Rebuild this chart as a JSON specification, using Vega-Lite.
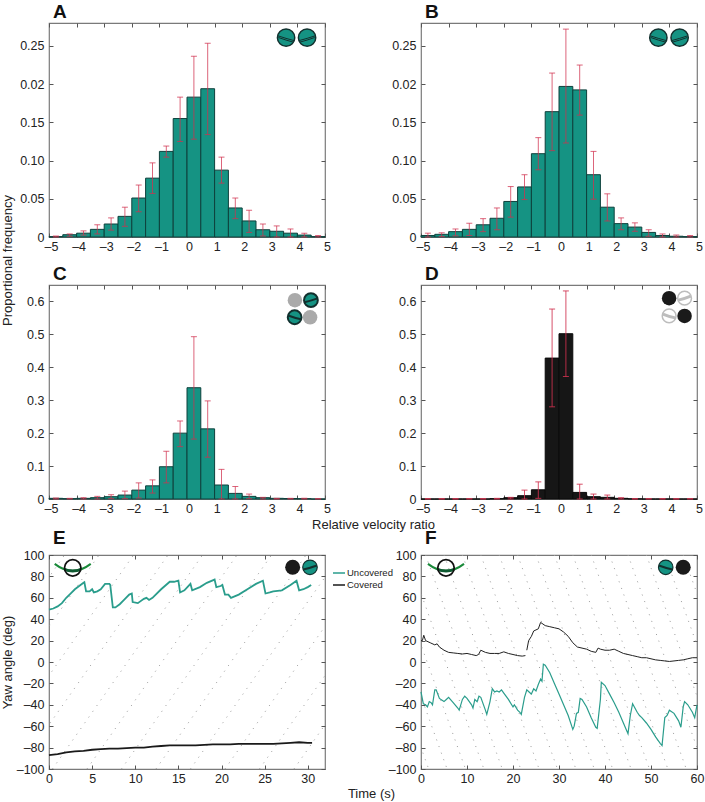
{"$schema":"https://vega.github.io/schema/vega-lite/v6.json","background":"white","padding":{"left":0,"top":1,"right":0,"bottom":0},
"config":{"font":"Liberation Sans","view":{"stroke":"#7a7a7a","strokeWidth":1.2},"axis":{"grid":false,"domain":false,"tickSize":-4,"tickColor":"#555","tickWidth":1,"labelFont":"Liberation Sans","labelFontSize":12.5,"labelColor":"#222","labelBound":false,"labelFlush":false,"labelOverlap":false,"titleFont":"Liberation Sans","titleFontWeight":"normal","titleFontSize":13,"titleColor":"#222"},"axisX":{"labelPadding":7},"axisY":{"labelPadding":9},"title":{"font":"Liberation Sans","fontWeight":"bold","fontSize":19,"color":"#111","anchor":"start","frame":"group","offset":1,"dx":4}},
"datasets":{
"A":[{"b":-5,"e":-4.5,"c":-4.75,"f":0.0005,"hi":0.0013,"lo":0},{"b":-4.5,"e":-4,"c":-4.25,"f":0.003,"hi":0.004,"lo":0.001},{"b":-4,"e":-3.5,"c":-3.75,"f":0.005,"hi":0.008,"lo":0.0025},{"b":-3.5,"e":-3,"c":-3.25,"f":0.01,"hi":0.016,"lo":0.004},{"b":-3,"e":-2.5,"c":-2.75,"f":0.017,"hi":0.025,"lo":0.009},{"b":-2.5,"e":-2,"c":-2.25,"f":0.027,"hi":0.039,"lo":0.014},{"b":-2,"e":-1.5,"c":-1.75,"f":0.051,"hi":0.068,"lo":0.033},{"b":-1.5,"e":-1,"c":-1.25,"f":0.077,"hi":0.097,"lo":0.057},{"b":-1,"e":-0.5,"c":-0.75,"f":0.112,"hi":0.119,"lo":0.1045},{"b":-0.5,"e":0,"c":-0.25,"f":0.155,"hi":0.183,"lo":0.125},{"b":0,"e":0.5,"c":0.25,"f":0.183,"hi":0.2365,"lo":0.128},{"b":0.5,"e":1,"c":0.75,"f":0.194,"hi":0.2535,"lo":0.134},{"b":1,"e":1.5,"c":1.25,"f":0.0875,"hi":0.1045,"lo":0.0705},{"b":1.5,"e":2,"c":1.75,"f":0.038,"hi":0.051,"lo":0.024},{"b":2,"e":2.5,"c":2.25,"f":0.021,"hi":0.035,"lo":0.006},{"b":2.5,"e":3,"c":2.75,"f":0.0095,"hi":0.017,"lo":0.0013},{"b":3,"e":3.5,"c":3.25,"f":0.0075,"hi":0.0145,"lo":0},{"b":3.5,"e":4,"c":3.75,"f":0.005,"hi":0.0105,"lo":0},{"b":4,"e":4.5,"c":4.25,"f":0.0025,"hi":0.005,"lo":0},{"b":4.5,"e":5,"c":4.75,"f":0.0005,"hi":0.002,"lo":0}],
"B":[{"b":-5,"e":-4.5,"c":-4.75,"f":0.002,"hi":0.005,"lo":0},{"b":-4.5,"e":-4,"c":-4.25,"f":0.0035,"hi":0.0055,"lo":0.0005},{"b":-4,"e":-3.5,"c":-3.75,"f":0.007,"hi":0.0105,"lo":0.0015},{"b":-3.5,"e":-3,"c":-3.25,"f":0.01,"hi":0.018,"lo":0.002},{"b":-3,"e":-2.5,"c":-2.75,"f":0.016,"hi":0.024,"lo":0.007},{"b":-2.5,"e":-2,"c":-2.25,"f":0.0245,"hi":0.038,"lo":0.0095},{"b":-2,"e":-1.5,"c":-1.75,"f":0.0465,"hi":0.066,"lo":0.026},{"b":-1.5,"e":-1,"c":-1.25,"f":0.0655,"hi":0.0815,"lo":0.049},{"b":-1,"e":-0.5,"c":-0.75,"f":0.109,"hi":0.13,"lo":0.088},{"b":-0.5,"e":0,"c":-0.25,"f":0.164,"hi":0.2145,"lo":0.113},{"b":0,"e":0.5,"c":0.25,"f":0.197,"hi":0.272,"lo":0.123},{"b":0.5,"e":1,"c":0.75,"f":0.1925,"hi":0.225,"lo":0.1595},{"b":1,"e":1.5,"c":1.25,"f":0.0815,"hi":0.112,"lo":0.0495},{"b":1.5,"e":2,"c":1.75,"f":0.039,"hi":0.0565,"lo":0.021},{"b":2,"e":2.5,"c":2.25,"f":0.0175,"hi":0.025,"lo":0.0095},{"b":2.5,"e":3,"c":2.75,"f":0.013,"hi":0.0185,"lo":0.0075},{"b":3,"e":3.5,"c":3.25,"f":0.006,"hi":0.0095,"lo":0.001},{"b":3.5,"e":4,"c":3.75,"f":0.002,"hi":0.004,"lo":0},{"b":4,"e":4.5,"c":4.25,"f":0.001,"hi":0.0025,"lo":0},{"b":4.5,"e":5,"c":4.75,"f":0.0005,"hi":0.002,"lo":0}],
"C":[{"b":-5,"e":-4.5,"c":-4.75,"f":0.002,"hi":0.003,"lo":0},{"b":-4.5,"e":-4,"c":-4.25,"f":0.001,"hi":0.002,"lo":0},{"b":-4,"e":-3.5,"c":-3.75,"f":0.002,"hi":0.004,"lo":0},{"b":-3.5,"e":-3,"c":-3.25,"f":0.004,"hi":0.008,"lo":0},{"b":-3,"e":-2.5,"c":-2.75,"f":0.007,"hi":0.013,"lo":0.001},{"b":-2.5,"e":-2,"c":-2.25,"f":0.012,"hi":0.024,"lo":0.001},{"b":-2,"e":-1.5,"c":-1.75,"f":0.027,"hi":0.049,"lo":0.003},{"b":-1.5,"e":-1,"c":-1.25,"f":0.04,"hi":0.058,"lo":0.018},{"b":-1,"e":-0.5,"c":-0.75,"f":0.098,"hi":0.145,"lo":0.049},{"b":-0.5,"e":0,"c":-0.25,"f":0.2,"hi":0.237,"lo":0.159},{"b":0,"e":0.5,"c":0.25,"f":0.338,"hi":0.493,"lo":0.182},{"b":0.5,"e":1,"c":0.75,"f":0.213,"hi":0.298,"lo":0.127},{"b":1,"e":1.5,"c":1.25,"f":0.0425,"hi":0.09,"lo":0},{"b":1.5,"e":2,"c":1.75,"f":0.017,"hi":0.038,"lo":0},{"b":2,"e":2.5,"c":2.25,"f":0.008,"hi":0.015,"lo":0.001},{"b":2.5,"e":3,"c":2.75,"f":0.004,"hi":0.005,"lo":0},{"b":3,"e":3.5,"c":3.25,"f":0.002,"hi":0.002,"lo":0},{"b":3.5,"e":4,"c":3.75,"f":0.0015,"hi":0.002,"lo":0},{"b":4,"e":4.5,"c":4.25,"f":0.001,"hi":0.002,"lo":0},{"b":4.5,"e":5,"c":4.75,"f":0,"hi":0.001,"lo":0}],
"D":[{"b":-5,"e":-4.5,"c":-4.75,"f":0,"hi":0.001,"lo":0},{"b":-4.5,"e":-4,"c":-4.25,"f":0,"hi":0.001,"lo":0},{"b":-4,"e":-3.5,"c":-3.75,"f":0,"hi":0.001,"lo":0},{"b":-3.5,"e":-3,"c":-3.25,"f":0,"hi":0.001,"lo":0},{"b":-3,"e":-2.5,"c":-2.75,"f":0,"hi":0.001,"lo":0},{"b":-2.5,"e":-2,"c":-2.25,"f":0.001,"hi":0.002,"lo":0},{"b":-2,"e":-1.5,"c":-1.75,"f":0.004,"hi":0.005,"lo":0},{"b":-1.5,"e":-1,"c":-1.25,"f":0.01,"hi":0.027,"lo":0},{"b":-1,"e":-0.5,"c":-0.75,"f":0.028,"hi":0.052,"lo":0.002},{"b":-0.5,"e":0,"c":-0.25,"f":0.428,"hi":0.577,"lo":0.28},{"b":0,"e":0.5,"c":0.25,"f":0.502,"hi":0.632,"lo":0.372},{"b":0.5,"e":1,"c":0.75,"f":0.02,"hi":0.045,"lo":0},{"b":1,"e":1.5,"c":1.25,"f":0.007,"hi":0.015,"lo":0},{"b":1.5,"e":2,"c":1.75,"f":0.005,"hi":0.012,"lo":0},{"b":2,"e":2.5,"c":2.25,"f":0.002,"hi":0.004,"lo":0},{"b":2.5,"e":3,"c":2.75,"f":0.0005,"hi":0.001,"lo":0},{"b":3,"e":3.5,"c":3.25,"f":0,"hi":0.001,"lo":0},{"b":3.5,"e":4,"c":3.75,"f":0,"hi":0.001,"lo":0},{"b":4,"e":4.5,"c":4.25,"f":0,"hi":0.001,"lo":0},{"b":4.5,"e":5,"c":4.75,"f":0,"hi":0.001,"lo":0}],
"E":[{"s":"Uncovered","g":1,"t":0,"y":49},{"s":"Uncovered","g":1,"t":0.5,"y":50},{"s":"Uncovered","g":1,"t":1,"y":52},{"s":"Uncovered","g":1,"t":1.5,"y":55},{"s":"Uncovered","g":1,"t":2,"y":60},{"s":"Uncovered","g":1,"t":2.5,"y":64},{"s":"Uncovered","g":1,"t":3,"y":68},{"s":"Uncovered","g":1,"t":3.5,"y":71},{"s":"Uncovered","g":1,"t":4,"y":74},{"s":"Uncovered","g":1,"t":4.1,"y":74.5},{"s":"Uncovered","g":1,"t":4.3,"y":66},{"s":"Uncovered","g":1,"t":4.7,"y":66},{"s":"Uncovered","g":1,"t":5,"y":68},{"s":"Uncovered","g":1,"t":5.2,"y":65},{"s":"Uncovered","g":1,"t":5.6,"y":66},{"s":"Uncovered","g":1,"t":6,"y":68},{"s":"Uncovered","g":1,"t":6.5,"y":73},{"s":"Uncovered","g":1,"t":7,"y":73},{"s":"Uncovered","g":1,"t":7.1,"y":72},{"s":"Uncovered","g":1,"t":7.4,"y":51},{"s":"Uncovered","g":1,"t":7.7,"y":51},{"s":"Uncovered","g":1,"t":8.2,"y":54},{"s":"Uncovered","g":1,"t":8.7,"y":58},{"s":"Uncovered","g":1,"t":9.3,"y":63},{"s":"Uncovered","g":1,"t":9.6,"y":64},{"s":"Uncovered","g":1,"t":9.7,"y":56},{"s":"Uncovered","g":1,"t":10.3,"y":55},{"s":"Uncovered","g":1,"t":11,"y":59},{"s":"Uncovered","g":1,"t":11.3,"y":60},{"s":"Uncovered","g":1,"t":11.6,"y":58},{"s":"Uncovered","g":1,"t":12,"y":60},{"s":"Uncovered","g":1,"t":13,"y":68},{"s":"Uncovered","g":1,"t":14,"y":75},{"s":"Uncovered","g":1,"t":14.5,"y":75},{"s":"Uncovered","g":1,"t":15,"y":76},{"s":"Uncovered","g":1,"t":15.2,"y":65},{"s":"Uncovered","g":1,"t":15.7,"y":67},{"s":"Uncovered","g":1,"t":16.4,"y":73},{"s":"Uncovered","g":1,"t":16.6,"y":67},{"s":"Uncovered","g":1,"t":17.5,"y":70},{"s":"Uncovered","g":1,"t":18.3,"y":74},{"s":"Uncovered","g":1,"t":19.2,"y":77},{"s":"Uncovered","g":1,"t":19.4,"y":70},{"s":"Uncovered","g":1,"t":19.9,"y":71},{"s":"Uncovered","g":1,"t":20.1,"y":72},{"s":"Uncovered","g":1,"t":20.4,"y":63},{"s":"Uncovered","g":1,"t":20.8,"y":63},{"s":"Uncovered","g":1,"t":21.1,"y":60},{"s":"Uncovered","g":1,"t":22,"y":63},{"s":"Uncovered","g":1,"t":23,"y":68},{"s":"Uncovered","g":1,"t":24,"y":73},{"s":"Uncovered","g":1,"t":24.8,"y":76},{"s":"Uncovered","g":1,"t":25.1,"y":64},{"s":"Uncovered","g":1,"t":25.6,"y":65},{"s":"Uncovered","g":1,"t":26,"y":66},{"s":"Uncovered","g":1,"t":27,"y":67},{"s":"Uncovered","g":1,"t":28,"y":72},{"s":"Uncovered","g":1,"t":28.7,"y":76},{"s":"Uncovered","g":1,"t":29,"y":67},{"s":"Uncovered","g":1,"t":29.5,"y":68},{"s":"Uncovered","g":1,"t":30,"y":70},{"s":"Uncovered","g":1,"t":30.4,"y":72},
{"s":"Covered","g":2,"t":0,"y":-87},{"s":"Covered","g":2,"t":1,"y":-86},{"s":"Covered","g":2,"t":2,"y":-84.5},{"s":"Covered","g":2,"t":3,"y":-83.5},{"s":"Covered","g":2,"t":4,"y":-83},{"s":"Covered","g":2,"t":5,"y":-82},{"s":"Covered","g":2,"t":6,"y":-81.5},{"s":"Covered","g":2,"t":7,"y":-81},{"s":"Covered","g":2,"t":8,"y":-81},{"s":"Covered","g":2,"t":9,"y":-80.5},{"s":"Covered","g":2,"t":10,"y":-80},{"s":"Covered","g":2,"t":11,"y":-80},{"s":"Covered","g":2,"t":12,"y":-79},{"s":"Covered","g":2,"t":13,"y":-78.5},{"s":"Covered","g":2,"t":14,"y":-78},{"s":"Covered","g":2,"t":15,"y":-78},{"s":"Covered","g":2,"t":16,"y":-78},{"s":"Covered","g":2,"t":17,"y":-78},{"s":"Covered","g":2,"t":18,"y":-77.5},{"s":"Covered","g":2,"t":19,"y":-77},{"s":"Covered","g":2,"t":20,"y":-77},{"s":"Covered","g":2,"t":21,"y":-77},{"s":"Covered","g":2,"t":22,"y":-76.5},{"s":"Covered","g":2,"t":24,"y":-76.5},{"s":"Covered","g":2,"t":26,"y":-76.5},{"s":"Covered","g":2,"t":28,"y":-75.5},{"s":"Covered","g":2,"t":29,"y":-75},{"s":"Covered","g":2,"t":30,"y":-75.5},{"s":"Covered","g":2,"t":30.5,"y":-75.5}],
"F":[{"s":"Uncovered","g":1,"t":0,"y":-28},{"s":"Uncovered","g":1,"t":0.5,"y":-39},{"s":"Uncovered","g":1,"t":1,"y":-40},{"s":"Uncovered","g":1,"t":1.4,"y":-42},{"s":"Uncovered","g":1,"t":1.8,"y":-37},{"s":"Uncovered","g":1,"t":2.2,"y":-38},{"s":"Uncovered","g":1,"t":2.5,"y":-40},{"s":"Uncovered","g":1,"t":3,"y":-26},{"s":"Uncovered","g":1,"t":3.3,"y":-26},{"s":"Uncovered","g":1,"t":4,"y":-34},{"s":"Uncovered","g":1,"t":5,"y":-37},{"s":"Uncovered","g":1,"t":5.5,"y":-35},{"s":"Uncovered","g":1,"t":6,"y":-33},{"s":"Uncovered","g":1,"t":7,"y":-38},{"s":"Uncovered","g":1,"t":8,"y":-43},{"s":"Uncovered","g":1,"t":8.3,"y":-45},{"s":"Uncovered","g":1,"t":9,"y":-35},{"s":"Uncovered","g":1,"t":9.5,"y":-32},{"s":"Uncovered","g":1,"t":10,"y":-34},{"s":"Uncovered","g":1,"t":11,"y":-40},{"s":"Uncovered","g":1,"t":11.3,"y":-43},{"s":"Uncovered","g":1,"t":11.7,"y":-35},{"s":"Uncovered","g":1,"t":12.2,"y":-37},{"s":"Uncovered","g":1,"t":12.6,"y":-32},{"s":"Uncovered","g":1,"t":13,"y":-33},{"s":"Uncovered","g":1,"t":14,"y":-45},{"s":"Uncovered","g":1,"t":14.3,"y":-49},{"s":"Uncovered","g":1,"t":15,"y":-37},{"s":"Uncovered","g":1,"t":15.5,"y":-25},{"s":"Uncovered","g":1,"t":16,"y":-28},{"s":"Uncovered","g":1,"t":16.5,"y":-27},{"s":"Uncovered","g":1,"t":17,"y":-28},{"s":"Uncovered","g":1,"t":17.5,"y":-26},{"s":"Uncovered","g":1,"t":18,"y":-29},{"s":"Uncovered","g":1,"t":19,"y":-35},{"s":"Uncovered","g":1,"t":20,"y":-42},{"s":"Uncovered","g":1,"t":20.3,"y":-40},{"s":"Uncovered","g":1,"t":21,"y":-45},{"s":"Uncovered","g":1,"t":21.5,"y":-47},{"s":"Uncovered","g":1,"t":21.8,"y":-49},{"s":"Uncovered","g":1,"t":22.5,"y":-33},{"s":"Uncovered","g":1,"t":23,"y":-26},{"s":"Uncovered","g":1,"t":23.5,"y":-28},{"s":"Uncovered","g":1,"t":24,"y":-30},{"s":"Uncovered","g":1,"t":24.5,"y":-25},{"s":"Uncovered","g":1,"t":25,"y":-27},{"s":"Uncovered","g":1,"t":25.5,"y":-21},{"s":"Uncovered","g":1,"t":26,"y":-16},{"s":"Uncovered","g":1,"t":26.3,"y":-18},{"s":"Uncovered","g":1,"t":26.6,"y":-2},{"s":"Uncovered","g":1,"t":27,"y":-3},{"s":"Uncovered","g":1,"t":28,"y":-10},{"s":"Uncovered","g":1,"t":29,"y":-20},{"s":"Uncovered","g":1,"t":30,"y":-30},{"s":"Uncovered","g":1,"t":31,"y":-40},{"s":"Uncovered","g":1,"t":32,"y":-50},{"s":"Uncovered","g":1,"t":33,"y":-63},{"s":"Uncovered","g":1,"t":33.3,"y":-60},{"s":"Uncovered","g":1,"t":33.8,"y":-48},{"s":"Uncovered","g":1,"t":34.2,"y":-47},{"s":"Uncovered","g":1,"t":34.6,"y":-34},{"s":"Uncovered","g":1,"t":35,"y":-35},{"s":"Uncovered","g":1,"t":36,"y":-42},{"s":"Uncovered","g":1,"t":37,"y":-52},{"s":"Uncovered","g":1,"t":38,"y":-61},{"s":"Uncovered","g":1,"t":38.3,"y":-62},{"s":"Uncovered","g":1,"t":39,"y":-35},{"s":"Uncovered","g":1,"t":39.2,"y":-19},{"s":"Uncovered","g":1,"t":40,"y":-22},{"s":"Uncovered","g":1,"t":41,"y":-30},{"s":"Uncovered","g":1,"t":42,"y":-38},{"s":"Uncovered","g":1,"t":43,"y":-47},{"s":"Uncovered","g":1,"t":44,"y":-57},{"s":"Uncovered","g":1,"t":45,"y":-67},{"s":"Uncovered","g":1,"t":45.5,"y":-50},{"s":"Uncovered","g":1,"t":46,"y":-39},{"s":"Uncovered","g":1,"t":47,"y":-47},{"s":"Uncovered","g":1,"t":47.5,"y":-50},{"s":"Uncovered","g":1,"t":48,"y":-52},{"s":"Uncovered","g":1,"t":49,"y":-57},{"s":"Uncovered","g":1,"t":50,"y":-63},{"s":"Uncovered","g":1,"t":51,"y":-70},{"s":"Uncovered","g":1,"t":52,"y":-76},{"s":"Uncovered","g":1,"t":52.4,"y":-78},{"s":"Uncovered","g":1,"t":53,"y":-52},{"s":"Uncovered","g":1,"t":53.5,"y":-50},{"s":"Uncovered","g":1,"t":54,"y":-45},{"s":"Uncovered","g":1,"t":55,"y":-48},{"s":"Uncovered","g":1,"t":56,"y":-55},{"s":"Uncovered","g":1,"t":56.5,"y":-61},{"s":"Uncovered","g":1,"t":57,"y":-42},{"s":"Uncovered","g":1,"t":57.3,"y":-37},{"s":"Uncovered","g":1,"t":58,"y":-40},{"s":"Uncovered","g":1,"t":59,"y":-47},{"s":"Uncovered","g":1,"t":59.5,"y":-52},{"s":"Uncovered","g":1,"t":60,"y":-40},
{"s":"Covered","g":2,"t":0,"y":20},{"s":"Covered","g":2,"t":0.3,"y":20},{"s":"Covered","g":2,"t":0.6,"y":25},{"s":"Covered","g":2,"t":1,"y":20},{"s":"Covered","g":2,"t":2,"y":18},{"s":"Covered","g":2,"t":3,"y":16},{"s":"Covered","g":2,"t":3.5,"y":17},{"s":"Covered","g":2,"t":4,"y":14},{"s":"Covered","g":2,"t":5,"y":11},{"s":"Covered","g":2,"t":6,"y":9},{"s":"Covered","g":2,"t":7,"y":8.5},{"s":"Covered","g":2,"t":8,"y":8},{"s":"Covered","g":2,"t":9,"y":7.5},{"s":"Covered","g":2,"t":10,"y":8},{"s":"Covered","g":2,"t":11,"y":7},{"s":"Covered","g":2,"t":12,"y":6},{"s":"Covered","g":2,"t":12.5,"y":7},{"s":"Covered","g":2,"t":13,"y":11},{"s":"Covered","g":2,"t":14,"y":9},{"s":"Covered","g":2,"t":15,"y":8},{"s":"Covered","g":2,"t":16,"y":8},{"s":"Covered","g":2,"t":17,"y":8},{"s":"Covered","g":2,"t":18,"y":9.5},{"s":"Covered","g":2,"t":19,"y":8},{"s":"Covered","g":2,"t":20,"y":7},{"s":"Covered","g":2,"t":21,"y":6},{"s":"Covered","g":2,"t":22,"y":5.5},{"s":"Covered","g":2,"t":22.7,"y":6},
{"s":"Covered","g":3,"t":23,"y":11},{"s":"Covered","g":3,"t":23.4,"y":20},{"s":"Covered","g":3,"t":24,"y":24},{"s":"Covered","g":3,"t":24.5,"y":29},{"s":"Covered","g":3,"t":25,"y":30},{"s":"Covered","g":3,"t":25.5,"y":31},{"s":"Covered","g":3,"t":26,"y":37},{"s":"Covered","g":3,"t":27,"y":34},{"s":"Covered","g":3,"t":28,"y":33},{"s":"Covered","g":3,"t":29,"y":32},{"s":"Covered","g":3,"t":30,"y":31},{"s":"Covered","g":3,"t":31,"y":28},{"s":"Covered","g":3,"t":32,"y":24},{"s":"Covered","g":3,"t":33,"y":18},{"s":"Covered","g":3,"t":34,"y":14},{"s":"Covered","g":3,"t":35,"y":13},{"s":"Covered","g":3,"t":36,"y":12},{"s":"Covered","g":3,"t":37,"y":10},{"s":"Covered","g":3,"t":38,"y":9},{"s":"Covered","g":3,"t":38.5,"y":13},{"s":"Covered","g":3,"t":39,"y":12},{"s":"Covered","g":3,"t":40,"y":11},{"s":"Covered","g":3,"t":41,"y":11},{"s":"Covered","g":3,"t":42,"y":12},{"s":"Covered","g":3,"t":43,"y":10},{"s":"Covered","g":3,"t":44,"y":8},{"s":"Covered","g":3,"t":45,"y":7},{"s":"Covered","g":3,"t":46,"y":6},{"s":"Covered","g":3,"t":47,"y":5},{"s":"Covered","g":3,"t":48,"y":4},{"s":"Covered","g":3,"t":49,"y":4},{"s":"Covered","g":3,"t":50,"y":3},{"s":"Covered","g":3,"t":51,"y":2},{"s":"Covered","g":3,"t":52,"y":1.5},{"s":"Covered","g":3,"t":53,"y":1},{"s":"Covered","g":3,"t":54,"y":0.5},{"s":"Covered","g":3,"t":55,"y":1},{"s":"Covered","g":3,"t":56,"y":1.5},{"s":"Covered","g":3,"t":57,"y":2},{"s":"Covered","g":3,"t":58,"y":3},{"s":"Covered","g":3,"t":59,"y":4},{"s":"Covered","g":3,"t":60,"y":4}],
"dotsE":[{"a":-15.6,"z":1.8},{"a":-11.6,"z":5.8},{"a":-7.6,"z":9.8},{"a":-3.6,"z":13.8},{"a":0.4,"z":17.8},{"a":4.4,"z":21.8},{"a":8.4,"z":25.8},{"a":12.4,"z":29.8},{"a":16.4,"z":33.8},{"a":20.4,"z":37.8},{"a":24.4,"z":41.8},{"a":28.4,"z":45.8}],
"dotsF":[{"a":-15,"z":1.67},{"a":-11,"z":5.67},{"a":-7,"z":9.67},{"a":-3,"z":13.67},{"a":1,"z":17.67},{"a":5,"z":21.67},{"a":9,"z":25.67},{"a":13,"z":29.67},{"a":17,"z":33.67},{"a":21,"z":37.67},{"a":25,"z":41.67},{"a":29,"z":45.67},{"a":33,"z":49.67},{"a":37,"z":53.67},{"a":41,"z":57.67},{"a":45,"z":61.67},{"a":49,"z":65.67},{"a":53,"z":69.67},{"a":57,"z":73.67}]
},
"spacing":532,"bounds":"flush","vconcat":[
{"spacing":262,"bounds":"flush","vconcat":[
{"spacing":96,"bounds":"flush","hconcat":[
{"width":276,"height":214,"title":"A","layer":[
{"data":{"name":"A"},"mark":{"type":"bar","fill":"#159383","stroke":"#0e403c","strokeWidth":1},"encoding":{"x":{"field":"b","type":"quantitative","scale":{"domain":[-5,5],"nice":false,"zero":false},"axis":{"orient":"bottom","title":null,"values":[-5,-4,-3,-2,-1,0,1,2,3,4,5],"labelOffset":2,"labelExpr":"datum.value<0?'–'+abs(datum.value):''+datum.value"}},"x2":{"field":"e"},"y":{"field":"f","type":"quantitative","scale":{"domain":[0,0.28],"nice":false},"axis":{"orient":"left","values":[0,0.05,0.1,0.15,0.2,0.25],"labelExpr":"datum.value==0?'0':datum.value==0.2?'0.02':format(datum.value,'.2f')","title":"Proportional frequency","titleX":-42,"titleY":237,"titleBaseline":"middle"}},"y2":{"datum":0}}},
{"data":{"name":"A"},"mark":{"type":"rule","stroke":"#d0314f","strokeWidth":1,"opacity":0.75},"encoding":{"x":{"field":"c","type":"quantitative","axis":null},"y":{"field":"hi","type":"quantitative","axis":null},"y2":{"field":"lo"}}},
{"data":{"name":"A"},"mark":{"type":"tick","orient":"horizontal","size":6,"thickness":1,"color":"#d0314f","opacity":0.75},"encoding":{"x":{"field":"c","type":"quantitative","axis":null},"y":{"field":"hi","type":"quantitative","axis":null}}},
{"data":{"name":"A"},"mark":{"type":"tick","orient":"horizontal","size":6,"thickness":1,"color":"#d0314f","opacity":0.75},"encoding":{"x":{"field":"c","type":"quantitative","axis":null},"y":{"field":"lo","type":"quantitative","axis":null}}},
{"mark":{"type":"rule","stroke":"#222","strokeWidth":1.5,"strokeDash":[11,7]},"encoding":{"x":{"datum":1,"type":"quantitative","axis":null}}},
{"mark":{"type":"rule","opacity":0},"encoding":{"x":{"datum":0,"type":"quantitative","axis":{"orient":"top","labels":false,"title":null,"values":[-5,-4,-3,-2,-1,0,1,2,3,4,5]}},"y":{"datum":0,"type":"quantitative","axis":{"orient":"right","labels":false,"title":null,"values":[0,0.05,0.1,0.15,0.2,0.25]}}}},
{"data":{"values":[{"x":3.59,"y":0.2608},{"x":4.35,"y":0.2608}]},"mark":{"type":"point","shape":"circle","filled":true,"fill":"#159383","stroke":"#12302e","strokeWidth":1.5,"size":300,"opacity":1},"encoding":{"x":{"field":"x","type":"quantitative","axis":null},"y":{"field":"y","type":"quantitative","axis":null}}},
{"data":{"values":[{"x":3.59,"y":0.2608}]},"mark":{"type":"point","shape":"M-0.95,-0.22Q0,0.1 0.92,0.34M-0.88,-0.02Q0,0.3 0.85,0.52","filled":false,"stroke":"#12302e","strokeWidth":1,"size":300,"opacity":1},"encoding":{"x":{"field":"x","type":"quantitative","axis":null},"y":{"field":"y","type":"quantitative","axis":null}}},
{"data":{"values":[{"x":4.35,"y":0.2608}]},"mark":{"type":"point","shape":"M-0.92,0.34Q0,0.1 0.95,-0.22M-0.85,0.52Q0,0.3 0.88,-0.02","filled":false,"stroke":"#12302e","strokeWidth":1,"size":300,"opacity":1},"encoding":{"x":{"field":"x","type":"quantitative","axis":null},"y":{"field":"y","type":"quantitative","axis":null}}}
],"resolve":{"axis":{"x":"independent","y":"independent"}}},
{"width":276,"height":214,"title":"B","layer":[
{"data":{"name":"B"},"mark":{"type":"bar","fill":"#159383","stroke":"#0e403c","strokeWidth":1},"encoding":{"x":{"field":"b","type":"quantitative","scale":{"domain":[-5,5],"nice":false,"zero":false},"axis":{"orient":"bottom","title":null,"values":[-5,-4,-3,-2,-1,0,1,2,3,4,5],"labelOffset":2,"labelExpr":"datum.value<0?'–'+abs(datum.value):''+datum.value"}},"x2":{"field":"e"},"y":{"field":"f","type":"quantitative","scale":{"domain":[0,0.28],"nice":false},"axis":{"orient":"left","title":null,"values":[0,0.05,0.1,0.15,0.2,0.25],"labelExpr":"datum.value==0?'0':datum.value==0.2?'0.02':format(datum.value,'.2f')"}},"y2":{"datum":0}}},
{"data":{"name":"B"},"mark":{"type":"rule","stroke":"#d0314f","strokeWidth":1,"opacity":0.75},"encoding":{"x":{"field":"c","type":"quantitative","axis":null},"y":{"field":"hi","type":"quantitative","axis":null},"y2":{"field":"lo"}}},
{"data":{"name":"B"},"mark":{"type":"tick","orient":"horizontal","size":6,"thickness":1,"color":"#d0314f","opacity":0.75},"encoding":{"x":{"field":"c","type":"quantitative","axis":null},"y":{"field":"hi","type":"quantitative","axis":null}}},
{"data":{"name":"B"},"mark":{"type":"tick","orient":"horizontal","size":6,"thickness":1,"color":"#d0314f","opacity":0.75},"encoding":{"x":{"field":"c","type":"quantitative","axis":null},"y":{"field":"lo","type":"quantitative","axis":null}}},
{"mark":{"type":"rule","stroke":"#222","strokeWidth":1.5,"strokeDash":[11,7]},"encoding":{"x":{"datum":1,"type":"quantitative","axis":null}}},
{"mark":{"type":"rule","opacity":0},"encoding":{"x":{"datum":0,"type":"quantitative","axis":{"orient":"top","labels":false,"title":null,"values":[-5,-4,-3,-2,-1,0,1,2,3,4,5]}},"y":{"datum":0,"type":"quantitative","axis":{"orient":"right","labels":false,"title":null,"values":[0,0.05,0.1,0.15,0.2,0.25]}}}},
{"data":{"values":[{"x":3.6,"y":0.2608},{"x":4.37,"y":0.2608}]},"mark":{"type":"point","shape":"circle","filled":true,"fill":"#159383","stroke":"#12302e","strokeWidth":1.5,"size":300,"opacity":1},"encoding":{"x":{"field":"x","type":"quantitative","axis":null},"y":{"field":"y","type":"quantitative","axis":null}}},
{"data":{"values":[{"x":3.6,"y":0.2608}]},"mark":{"type":"point","shape":"M-0.95,-0.22Q0,0.1 0.92,0.34M-0.88,-0.02Q0,0.3 0.85,0.52","filled":false,"stroke":"#12302e","strokeWidth":1,"size":300,"opacity":1},"encoding":{"x":{"field":"x","type":"quantitative","axis":null},"y":{"field":"y","type":"quantitative","axis":null}}},
{"data":{"values":[{"x":4.37,"y":0.2608}]},"mark":{"type":"point","shape":"M-0.92,0.34Q0,0.1 0.95,-0.22M-0.85,0.52Q0,0.3 0.88,-0.02","filled":false,"stroke":"#12302e","strokeWidth":1,"size":300,"opacity":1},"encoding":{"x":{"field":"x","type":"quantitative","axis":null},"y":{"field":"y","type":"quantitative","axis":null}}}
],"resolve":{"axis":{"x":"independent","y":"independent"}}}
]},
{"spacing":96,"bounds":"flush","hconcat":[
{"width":276,"height":214,"title":"C","layer":[
{"data":{"name":"C"},"mark":{"type":"bar","fill":"#159383","stroke":"#0e403c","strokeWidth":1},"encoding":{"x":{"field":"b","type":"quantitative","scale":{"domain":[-5,5],"nice":false,"zero":false},"axis":{"orient":"bottom","values":[-5,-4,-3,-2,-1,0,1,2,3,4,5],"labelOffset":2,"labelExpr":"datum.value<0?'–'+abs(datum.value):''+datum.value","title":"Relative velocity ratio","titleX":324,"titleY":19}},"x2":{"field":"e"},"y":{"field":"f","type":"quantitative","scale":{"domain":[0,0.65],"nice":false},"axis":{"orient":"left","title":null,"values":[0,0.1,0.2,0.3,0.4,0.5,0.6],"labelExpr":"datum.value==0?'0':format(datum.value,'.1f')"}},"y2":{"datum":0}}},
{"data":{"name":"C"},"mark":{"type":"rule","stroke":"#d0314f","strokeWidth":1,"opacity":0.75},"encoding":{"x":{"field":"c","type":"quantitative","axis":null},"y":{"field":"hi","type":"quantitative","axis":null},"y2":{"field":"lo"}}},
{"data":{"name":"C"},"mark":{"type":"tick","orient":"horizontal","size":6,"thickness":1,"color":"#d0314f","opacity":0.75},"encoding":{"x":{"field":"c","type":"quantitative","axis":null},"y":{"field":"hi","type":"quantitative","axis":null}}},
{"data":{"name":"C"},"mark":{"type":"tick","orient":"horizontal","size":6,"thickness":1,"color":"#d0314f","opacity":0.75},"encoding":{"x":{"field":"c","type":"quantitative","axis":null},"y":{"field":"lo","type":"quantitative","axis":null}}},
{"mark":{"type":"rule","stroke":"#222","strokeWidth":1.5,"strokeDash":[16,9]},"encoding":{"x":{"datum":1,"type":"quantitative","axis":null}}},
{"mark":{"type":"rule","opacity":0},"encoding":{"x":{"datum":0,"type":"quantitative","axis":{"orient":"top","labels":false,"title":null,"values":[-5,-4,-3,-2,-1,0,1,2,3,4,5]}},"y":{"datum":0,"type":"quantitative","axis":{"orient":"right","labels":false,"title":null,"values":[0,0.1,0.2,0.3,0.4,0.5,0.6]}}}},
{"data":{"values":[{"x":3.91,"y":0.604},{"x":4.46,"y":0.552}]},"mark":{"type":"point","shape":"circle","filled":true,"fill":"#aaaaaa","stroke":null,"size":210,"opacity":1},"encoding":{"x":{"field":"x","type":"quantitative","axis":null},"y":{"field":"y","type":"quantitative","axis":null}}},
{"data":{"values":[{"x":4.49,"y":0.604},{"x":3.9,"y":0.552}]},"mark":{"type":"point","shape":"circle","filled":true,"fill":"#159383","stroke":"#12302e","strokeWidth":2,"size":190,"opacity":1},"encoding":{"x":{"field":"x","type":"quantitative","axis":null},"y":{"field":"y","type":"quantitative","axis":null}}},
{"data":{"values":[{"x":4.49,"y":0.604}]},"mark":{"type":"point","shape":"M-0.92,0.3Q0,0.1 0.95,-0.25","filled":false,"stroke":"#12302e","strokeWidth":2,"size":190,"opacity":1},"encoding":{"x":{"field":"x","type":"quantitative","axis":null},"y":{"field":"y","type":"quantitative","axis":null}}},
{"data":{"values":[{"x":3.9,"y":0.552}]},"mark":{"type":"point","shape":"M-0.95,-0.25Q0,0.1 0.92,0.3","filled":false,"stroke":"#12302e","strokeWidth":2,"size":190,"opacity":1},"encoding":{"x":{"field":"x","type":"quantitative","axis":null},"y":{"field":"y","type":"quantitative","axis":null}}}
],"resolve":{"axis":{"x":"independent","y":"independent"}}},
{"width":276,"height":214,"title":"D","layer":[
{"data":{"name":"D"},"mark":{"type":"bar","fill":"#161616","stroke":"#0a0a0a","strokeWidth":1},"encoding":{"x":{"field":"b","type":"quantitative","scale":{"domain":[-5,5],"nice":false,"zero":false},"axis":{"orient":"bottom","title":null,"values":[-5,-4,-3,-2,-1,0,1,2,3,4,5],"labelOffset":2,"labelExpr":"datum.value<0?'–'+abs(datum.value):''+datum.value"}},"x2":{"field":"e"},"y":{"field":"f","type":"quantitative","scale":{"domain":[0,0.65],"nice":false},"axis":{"orient":"left","title":null,"values":[0,0.1,0.2,0.3,0.4,0.5,0.6],"labelExpr":"datum.value==0?'0':format(datum.value,'.1f')"}},"y2":{"datum":0}}},
{"data":{"name":"D"},"mark":{"type":"rule","stroke":"#d0314f","strokeWidth":1,"opacity":0.85},"encoding":{"x":{"field":"c","type":"quantitative","axis":null},"y":{"field":"hi","type":"quantitative","axis":null},"y2":{"field":"lo"}}},
{"data":{"name":"D"},"mark":{"type":"tick","orient":"horizontal","size":6,"thickness":1,"color":"#d0314f","opacity":0.85},"encoding":{"x":{"field":"c","type":"quantitative","axis":null},"y":{"field":"hi","type":"quantitative","axis":null}}},
{"data":{"name":"D"},"mark":{"type":"tick","orient":"horizontal","size":6,"thickness":1,"color":"#d0314f","opacity":0.85},"encoding":{"x":{"field":"c","type":"quantitative","axis":null},"y":{"field":"lo","type":"quantitative","axis":null}}},
{"mark":{"type":"rule","stroke":"#222","strokeWidth":1.5,"strokeDash":[16,9]},"encoding":{"x":{"datum":1,"type":"quantitative","axis":null}}},
{"mark":{"type":"rule","opacity":0},"encoding":{"x":{"datum":0,"type":"quantitative","axis":{"orient":"top","labels":false,"title":null,"values":[-5,-4,-3,-2,-1,0,1,2,3,4,5]}},"y":{"datum":0,"type":"quantitative","axis":{"orient":"right","labels":false,"title":null,"values":[0,0.1,0.2,0.3,0.4,0.5,0.6]}}}},
{"data":{"values":[{"x":3.99,"y":0.61},{"x":4.55,"y":0.556}]},"mark":{"type":"point","shape":"circle","filled":true,"fill":"#1a1a1a","stroke":null,"size":210,"opacity":1},"encoding":{"x":{"field":"x","type":"quantitative","axis":null},"y":{"field":"y","type":"quantitative","axis":null}}},
{"data":{"values":[{"x":4.55,"y":0.61},{"x":3.99,"y":0.556}]},"mark":{"type":"point","shape":"circle","filled":false,"stroke":"#bdbdbd","strokeWidth":1.5,"size":190,"opacity":1},"encoding":{"x":{"field":"x","type":"quantitative","axis":null},"y":{"field":"y","type":"quantitative","axis":null}}},
{"data":{"values":[{"x":4.55,"y":0.61}]},"mark":{"type":"point","shape":"M-0.9,0.28Q0,0.1 0.9,-0.28","filled":false,"stroke":"#bdbdbd","strokeWidth":3,"size":190,"opacity":1},"encoding":{"x":{"field":"x","type":"quantitative","axis":null},"y":{"field":"y","type":"quantitative","axis":null}}},
{"data":{"values":[{"x":3.99,"y":0.556}]},"mark":{"type":"point","shape":"M-0.9,-0.28Q0,0.1 0.9,0.28","filled":false,"stroke":"#bdbdbd","strokeWidth":3,"size":190,"opacity":1},"encoding":{"x":{"field":"x","type":"quantitative","axis":null},"y":{"field":"y","type":"quantitative","axis":null}}}
],"resolve":{"axis":{"x":"independent","y":"independent"}}}
]}
]},
{"spacing":96,"bounds":"flush","hconcat":[
{"width":276,"height":214,"title":"E","layer":[
{"data":{"name":"dotsE"},"mark":{"type":"rule","stroke":"#9a9a9a","strokeWidth":1,"strokeDash":[1,6],"clip":true},"encoding":{"x":{"field":"a","type":"quantitative","scale":{"domain":[0,32],"nice":false,"zero":false},"axis":{"orient":"bottom","values":[0,5,10,15,20,25,30],"title":"Time (s)","titleX":322,"titleY":18}},"x2":{"field":"z"},"y":{"datum":-100,"type":"quantitative","scale":{"domain":[-100,100],"nice":false},"axis":{"orient":"left","values":[-100,-80,-60,-40,-20,0,20,40,60,80,100],"labelExpr":"datum.value<0?'–'+abs(datum.value):''+datum.value","title":"Yaw angle (deg)","titleX":-42,"titleY":107,"titleBaseline":"middle"}},"y2":{"datum":100}}},
{"data":{"name":"E"},"mark":{"type":"line","strokeWidth":1.8,"interpolate":"linear"},"encoding":{"x":{"field":"t","type":"quantitative","axis":null},"y":{"field":"y","type":"quantitative","axis":null},"detail":{"field":"g"},"color":{"field":"s","type":"nominal","scale":{"domain":["Uncovered","Covered"],"range":["#2a9d8c","#1a1a1a"]},"legend":{"orient":"none","legendX":283,"legendY":543,"title":null,"symbolType":"stroke","symbolSize":144,"symbolStrokeWidth":1.5,"labelFontSize":9.5,"labelFont":"Liberation Sans","labelColor":"#222","rowPadding":0,"labelOffset":1}}}},
{"mark":{"type":"rule","opacity":0},"encoding":{"x":{"datum":0,"type":"quantitative","axis":{"orient":"top","labels":false,"title":null,"values":[0,5,10,15,20,25,30]}},"y":{"datum":0,"type":"quantitative","axis":{"orient":"right","labels":false,"title":null,"values":[-100,-80,-60,-40,-20,0,20,40,60,80,100]}}}},
{"data":{"values":[{"x":28.25,"y":88.5}]},"mark":{"type":"point","shape":"circle","filled":true,"fill":"#1a1a1a","stroke":null,"size":225,"opacity":1},"encoding":{"x":{"field":"x","type":"quantitative","axis":null},"y":{"field":"y","type":"quantitative","axis":null}}},
{"data":{"values":[{"x":30.26,"y":88.5}]},"mark":{"type":"point","shape":"circle","filled":true,"fill":"#159383","stroke":"#12302e","strokeWidth":1.2,"size":210,"opacity":1},"encoding":{"x":{"field":"x","type":"quantitative","axis":null},"y":{"field":"y","type":"quantitative","axis":null}}},
{"data":{"values":[{"x":30.26,"y":88.5}]},"mark":{"type":"point","shape":"M-0.92,0.3Q0,0.1 0.95,-0.25","filled":false,"stroke":"#12302e","strokeWidth":2,"size":210,"opacity":1},"encoding":{"x":{"field":"x","type":"quantitative","axis":null},"y":{"field":"y","type":"quantitative","axis":null}}},
{"data":{"values":[{"x":2.75,"y":88}]},"mark":{"type":"point","shape":"M-1,-0.22Q0,0.55 1,-0.22","filled":false,"stroke":"#1a8a3a","strokeWidth":2,"size":1300,"opacity":1},"encoding":{"x":{"field":"x","type":"quantitative","axis":null},"y":{"field":"y","type":"quantitative","axis":null}}},
{"data":{"values":[{"x":2.75,"y":88}]},"mark":{"type":"point","shape":"M-0.45,0.1Q0,0.25 0.45,0.1","filled":false,"stroke":"#0f5a32","strokeWidth":3,"size":1300,"opacity":1},"encoding":{"x":{"field":"x","type":"quantitative","axis":null},"y":{"field":"y","type":"quantitative","axis":null}}},
{"data":{"values":[{"x":2.75,"y":88}]},"mark":{"type":"point","shape":"circle","filled":false,"stroke":"#111","strokeWidth":1.8,"size":270,"opacity":1},"encoding":{"x":{"field":"x","type":"quantitative","axis":null},"y":{"field":"y","type":"quantitative","axis":null}}}
],"resolve":{"axis":{"x":"independent","y":"independent"}}},
{"width":276,"height":214,"title":"F","layer":[
{"data":{"name":"dotsF"},"mark":{"type":"rule","stroke":"#9a9a9a","strokeWidth":1,"strokeDash":[1,6],"clip":true},"encoding":{"x":{"field":"a","type":"quantitative","scale":{"domain":[0,60],"nice":false,"zero":false},"axis":{"orient":"bottom","title":null,"values":[0,10,20,30,40,50,60]}},"x2":{"field":"z"},"y":{"datum":100,"type":"quantitative","scale":{"domain":[-100,100],"nice":false},"axis":{"orient":"left","title":null,"values":[-100,-80,-60,-40,-20,0,20,40,60,80,100],"labelExpr":"datum.value<0?'–'+abs(datum.value):''+datum.value"}},"y2":{"datum":-100}}},
{"data":{"name":"F"},"transform":[{"filter":"datum.s=='Uncovered'"}],"mark":{"type":"line","stroke":"#2a9d8c","strokeWidth":1.2},"encoding":{"x":{"field":"t","type":"quantitative","axis":null},"y":{"field":"y","type":"quantitative","axis":null},"detail":{"field":"g"}}},
{"data":{"name":"F"},"transform":[{"filter":"datum.s=='Covered'"}],"mark":{"type":"line","stroke":"#222","strokeWidth":1},"encoding":{"x":{"field":"t","type":"quantitative","axis":null},"y":{"field":"y","type":"quantitative","axis":null},"detail":{"field":"g"}}},
{"mark":{"type":"rule","opacity":0},"encoding":{"x":{"datum":0,"type":"quantitative","axis":{"orient":"top","labels":false,"title":null,"values":[0,10,20,30,40,50,60]}},"y":{"datum":0,"type":"quantitative","axis":{"orient":"right","labels":false,"title":null,"values":[-100,-80,-60,-40,-20,0,20,40,60,80,100]}}}},
{"data":{"values":[{"x":57,"y":88.5}]},"mark":{"type":"point","shape":"circle","filled":true,"fill":"#1a1a1a","stroke":null,"size":225,"opacity":1},"encoding":{"x":{"field":"x","type":"quantitative","axis":null},"y":{"field":"y","type":"quantitative","axis":null}}},
{"data":{"values":[{"x":53.2,"y":88.5}]},"mark":{"type":"point","shape":"circle","filled":true,"fill":"#159383","stroke":"#12302e","strokeWidth":1.2,"size":210,"opacity":1},"encoding":{"x":{"field":"x","type":"quantitative","axis":null},"y":{"field":"y","type":"quantitative","axis":null}}},
{"data":{"values":[{"x":53.2,"y":88.5}]},"mark":{"type":"point","shape":"M-0.95,-0.25Q0,0.1 0.92,0.3","filled":false,"stroke":"#12302e","strokeWidth":2,"size":210,"opacity":1},"encoding":{"x":{"field":"x","type":"quantitative","axis":null},"y":{"field":"y","type":"quantitative","axis":null}}},
{"data":{"values":[{"x":5.43,"y":88}]},"mark":{"type":"point","shape":"M-1,-0.22Q0,0.55 1,-0.22","filled":false,"stroke":"#1a8a3a","strokeWidth":2,"size":1300,"opacity":1},"encoding":{"x":{"field":"x","type":"quantitative","axis":null},"y":{"field":"y","type":"quantitative","axis":null}}},
{"data":{"values":[{"x":5.43,"y":88}]},"mark":{"type":"point","shape":"M-0.45,0.1Q0,0.25 0.45,0.1","filled":false,"stroke":"#0f5a32","strokeWidth":3,"size":1300,"opacity":1},"encoding":{"x":{"field":"x","type":"quantitative","axis":null},"y":{"field":"y","type":"quantitative","axis":null}}},
{"data":{"values":[{"x":5.43,"y":88}]},"mark":{"type":"point","shape":"circle","filled":false,"stroke":"#111","strokeWidth":1.8,"size":270,"opacity":1},"encoding":{"x":{"field":"x","type":"quantitative","axis":null},"y":{"field":"y","type":"quantitative","axis":null}}}
],"resolve":{"axis":{"x":"independent","y":"independent"}}}
]}
]}
